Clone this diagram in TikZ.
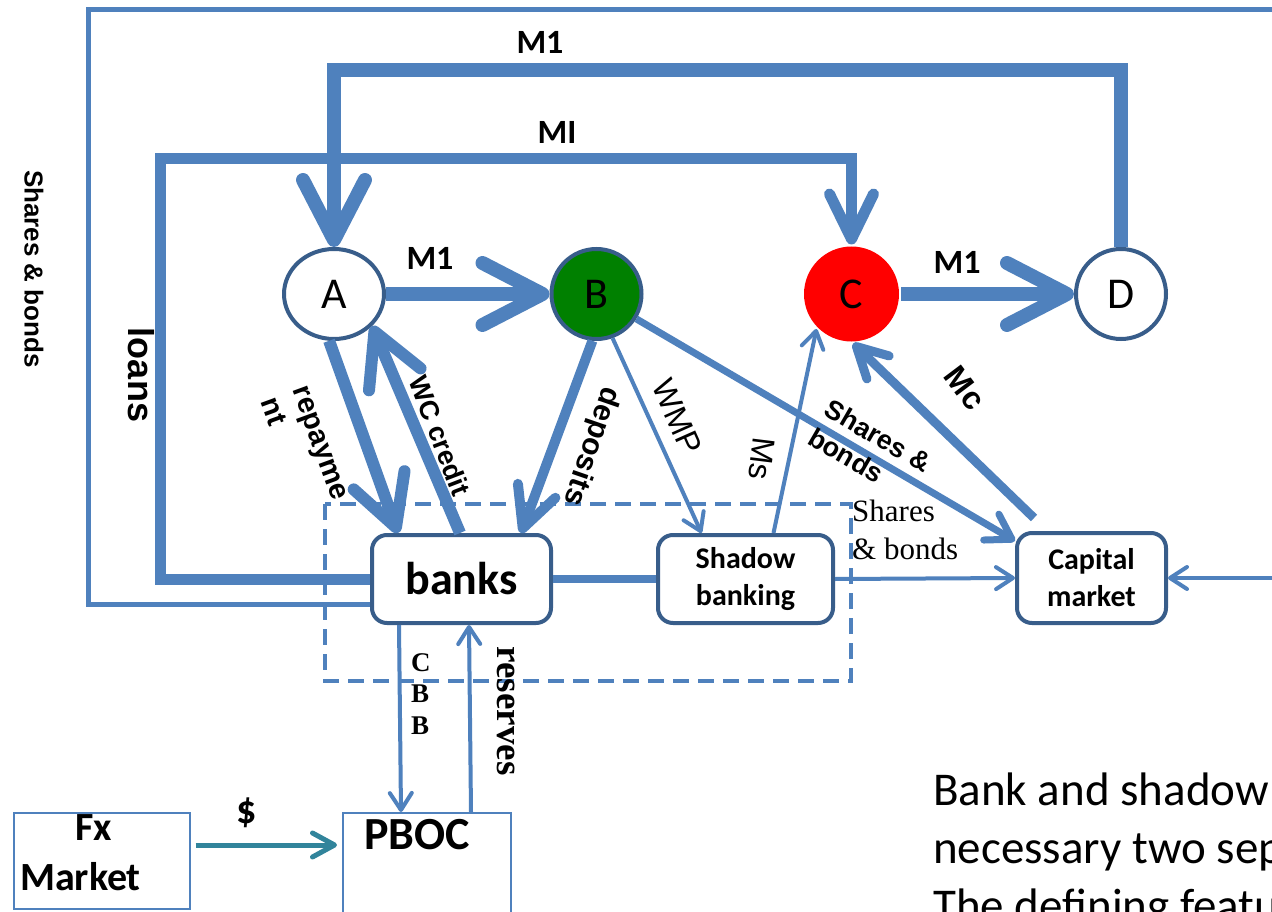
\documentclass[tikz,border=0pt]{standalone}
\usepackage{fontspec}
\setmainfont{Carlito}
\newfontfamily\arialf{Liberation Sans}
\newfontfamily\serf{Liberation Serif}
\usetikzlibrary{arrows.meta,shapes.geometric,calc}
\definecolor{lnc}{HTML}{4F81BD}
\definecolor{bdc}{HTML}{385D8A}
\definecolor{grn}{HTML}{008000}
\definecolor{tealc}{HTML}{31849B}
\newcommand\fsz[2]{\fontsize{#1}{#2}\selectfont}
\begin{document}
\begin{tikzpicture}[x=1pt,y=-1pt,
  circ/.style={circle, draw=bdc, line width=4pt, minimum size=90pt, inner sep=0pt, font=\fsz{44}{50}},
  rbox/.style={rectangle, rounded corners=15pt, draw=bdc, line width=4pt, fill=white, align=center, inner sep=0pt},
  tbox/.style={rectangle, draw=lnc, line width=2pt, fill=white, inner sep=0pt},
  lab/.style={inner sep=0pt},
  cal/.style={lab, font=\bfseries\fsz{34}{40}},
  arb/.style 2 args={lab, font=\arialf\bfseries\fsz{#1}{#2}},
  thintip/.style={-{Straight Barb[length=17pt,width=22pt,round]}},
  bigtip/.style={-{Straight Barb[length=60pt,width=62pt,round]}},
  fl/.style={draw=lnc, line join=miter}
]
\useasboundingbox (0,0) rectangle (1272,912);
\fill[white] (0,0) rectangle (1272,912);
\clip (0,0) rectangle (1272,912);

% coordinates
\coordinate (of1) at (0,604);
\coordinate (of2) at (88,10);
\coordinate (offR) at (1290,10);
\coordinate (lc1) at (160,159);
\coordinate (m1c) at (700,70);
\coordinate (offRC) at (1290,578);

% nodes
\node[ellipse, draw=bdc, line width=4pt, fill=white, minimum width=100pt, minimum height=90pt, inner sep=0pt, font=\fsz{44}{50}] (A) at (334,294) {A};
\node[circ, fill=grn] (B) at (596.5,294) {B};
\node[circ, fill=red, draw=none, minimum size=95pt] (C) at (851.5,294) {C};
\node[circ, fill=white] (D) at (1121,294) {D};

\node[rbox, minimum width=179pt, minimum height=88pt, font=\bfseries\fsz{46}{52}] (banks) at (461.5,579) {banks};
\node[rbox, minimum width=175pt, minimum height=88pt, font=\bfseries\fsz{30}{37}] (shadow) at (745.5,579) {Shadow\\banking};
\node[rbox, minimum width=149pt, minimum height=90pt, font=\bfseries\fsz{30}{37}] (capital) at (1091.5,578) {Capital\\market};

\node[tbox, anchor=north west, minimum width=168pt, minimum height=120pt] (pboc) at (342,812) {};
\node[tbox, anchor=north west, minimum width=176pt, minimum height=96pt] (fx) at (12.6,812) {};
\node[lab, font=\bfseries\fsz{46}{52}] (pbocT) at (417,835) {PBOC};
\node[lab, font=\bfseries\fsz{40}{46}] (fxT) at (94,828) {Fx};
\node[lab, font=\bfseries\fsz{40}{46}] (mkT) at (80.5,877) {Market};

% dashed group
\draw[lnc, line width=4pt, dash pattern=on 16pt off 9pt] (325,504) rectangle (851,681);

% connectors
\draw[fl, line width=5pt] (banks.west |- of1) -| (of2) -- (offR);
\draw[fl, line width=11pt, -{Straight Barb[length=45pt,width=44pt,round]}] (banks.west) -| (lc1) -| (C.north);
\draw[fl, line width=14pt, bigtip] (D.north) |- (m1c) -| (A.north);
\draw[fl, line width=14pt, bigtip] (A.east) -- (B.west);
\draw[fl, line width=14pt, bigtip] (C.east) -- (D.west);

\draw[fl, line width=12pt, -{Straight Barb[length=50pt,width=54pt,round]}] (A.-96) -- ($(banks.north west)+(28,0)$);
\draw[fl, line width=12pt, -{Straight Barb[length=52pt,width=56pt,round]}] ($(banks.north west)+(90,0)$) -- (A.-40);
\draw[fl, line width=10pt, -{Straight Barb[length=40pt,width=40pt,round]}] (B.-95) -- ($(banks.north west)+(151,0)$);

\draw[fl, line width=4pt, thintip] (B.-70) -- ($(shadow.north)+(-44,0)$);
\draw[fl, line width=4pt, thintip] ($(shadow.north)+(28,0)$) -- (C.225);
\draw[fl, line width=7pt, -{Straight Barb[length=24pt,width=30pt,round]}] (B.-32) -- ($(capital.north west)+(0,10)$);
\draw[fl, line width=9pt, -{Straight Barb[length=30pt,width=32pt,round]}] ($(capital.north west)+(19,-13)$) -- (C.-88);

\draw[fl, line width=8pt] (banks.east) -- (shadow.west);
\draw[fl, line width=4pt, thintip] (shadow.east) -- (capital.west);
\draw[fl, line width=4pt, thintip] (offRC) -- (capital.east);

\draw[fl, line width=4pt, thintip] ($(banks.south west)+(29,0)$) -- ($(pboc.north west)+(59,0)$);
\draw[fl, line width=4pt, thintip] ($(pboc.north west)+(129,0)$) -- ($(banks.south west)+(99,0)$);
\draw[tealc, line width=5pt, -{Straight Barb[length=22pt,width=24pt,round]}] ($(fx.north east)+(5,33)$) -- ($(pboc.north west)+(-5,33)$);

% labels
\node[cal] (l1) at (540,42) {M1};
\node[cal] (l2) at (557,132) {MI};
\node[cal] (l3) at (430,258) {M1};
\node[cal] (l4) at (957,262) {M1};
\node[arb={36}{42}, rotate=-90] (l5) at (141,375) {loans};
\node[arb={26}{30}, rotate=-90] (l6) at (34,269) {Shares \& bonds};
\node[arb={29}{34}, rotate=-70, align=left] (l7) at (304,449) {repayme\\nt};
\node[arb={27}{32}, rotate=-69] (l8) at (440,436) {WC credit};
\node[arb={30}{35}, rotate=-109] (l9) at (591,446) {deposits};
\node[lab, font=\arialf\fsz{32}{37}, rotate=-66] (l10) at (677,417) {WMP};
\node[lab, font=\arialf\fsz{32}{37}, rotate=-97] (l11) at (762,459) {Ms};
\node[arb={27}{33}, rotate=-30, align=left] (l12) at (870,450) {Shares \&\\bonds};
\node[arb={32}{37}, rotate=-53] (l13) at (965,388) {Mc};
\node[lab, font=\serf\fsz{31}{38}, align=left, anchor=north west] (l14) at (852,500) {Shares\\\& bonds};
\node[lab, font=\serf\bfseries\fsz{27}{31.5}, align=left, anchor=north west] (l15) at (411,653) {C\\B\\B};
\node[lab, font=\serf\bfseries\fsz{37}{42}, rotate=-90] (l16) at (506,711) {reserves};
\node[lab, font=\bfseries\fsz{40}{46}] (l17) at (247,813) {\$};

\node[lab, font=\fsz{47}{56}, anchor=base west] (t1) at (933,805) {Bank and shadow};
\node[lab, font=\fsz{47}{56}, anchor=base west] (t2) at (933,863) {necessary two sep};
\node[lab, font=\fsz{47}{56}, anchor=base west] (t3) at (933,921) {The defining featu};
\end{tikzpicture}
\end{document}
